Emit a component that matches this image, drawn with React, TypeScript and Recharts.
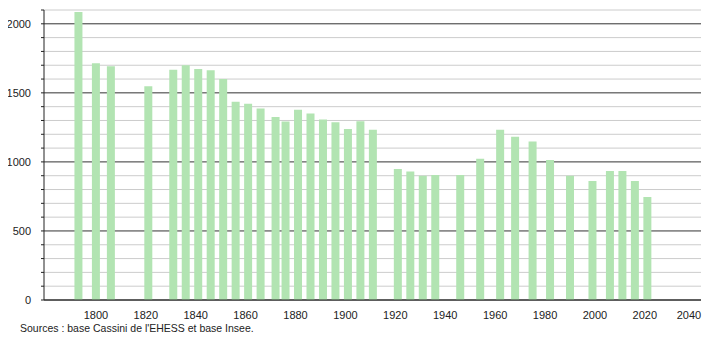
import { Bar, BarChart, CartesianGrid, XAxis, YAxis } from "recharts";

const years = [
  1793, 1800, 1806, 1821, 1831, 1836, 1841, 1846, 1851, 1856, 1861, 1866, 1872, 1876, 1881,
  1886, 1891, 1896, 1901, 1906, 1911, 1921, 1926, 1931, 1936, 1946, 1954, 1962, 1968, 1975,
  1982, 1990, 1999, 2006, 2011, 2016, 2021,
];
const population = [
  2085, 1715, 1693, 1548, 1667, 1700, 1672, 1664, 1601, 1435, 1422, 1386, 1326, 1292, 1377,
  1350, 1307, 1288, 1239, 1295, 1232, 949, 930, 899, 906, 906, 1022, 1232, 1183, 1147,
  1014, 899, 862, 935, 935, 862, 746,
];
const xTicks = [1800, 1820, 1840, 1860, 1880, 1900, 1920, 1940, 1960, 1980, 2000, 2020, 2040];
const majorTicks = [0, 500, 1000, 1500, 2000];
const minorTicks = [
  100, 200, 300, 400, 600, 700, 800, 900, 1100, 1200, 1300, 1400, 1600, 1700, 1800, 1900, 2100,
];
const allYTicks = [...majorTicks, ...minorTicks].sort((a, b) => a - b);

const data = years.map((year, i) => ({ year, pop: population[i] }));

const font = "'Liberation Sans', Arial, sans-serif";

// keeps the last year label inside the picture
function YearTick({ x, y, payload }: any) {
  return (
    <text
      x={Math.min(x, 689)}
      y={y + 11}
      textAnchor="middle"
      fontSize={11}
      fill="#222"
      fontFamily={font}
    >
      {payload.value}
    </text>
  );
}

export default function App() {
  // pull the chart back over the body margin so it can use the full width
  return (
    <div
      style={{
        position: "relative",
        margin: "-8px 0 0 -8px",
        width: 710,
        height: 336,
        fontFamily: font,
      }}
    >
      <BarChart
        width={710}
        height={320}
        data={data}
        margin={{ top: 10, right: 9, left: 8, bottom: 0 }}
        barSize={8}
      >
        <CartesianGrid
          vertical={false}
          horizontalValues={minorTicks}
          stroke="#cccccc"
          strokeDasharray=""
        />
        <CartesianGrid
          vertical={false}
          horizontalValues={majorTicks}
          stroke="#333333"
          strokeDasharray=""
        />
        <XAxis
          dataKey="year"
          type="number"
          domain={[1779.2, 2042.5]}
          ticks={xTicks}
          allowDataOverflow
          height={20}
          tickLine={false}
          axisLine={{ stroke: "#222" }}
          tick={<YearTick />}
        />
        <YAxis
          type="number"
          domain={[0, 2100]}
          ticks={allYTicks}
          width={36}
          interval={0}
          tickSize={3}
          tickMargin={10}
          tickLine={{ stroke: "#222" }}
          axisLine={{ stroke: "#222" }}
          tickFormatter={(v: number) => (v % 500 === 0 ? String(v) : "")}
          tick={{ fontSize: 11, fill: "#222", fontFamily: font }}
        />
        <Bar dataKey="pop" fill="#b2e4b2" isAnimationActive={false} />
      </BarChart>
      <div
        style={{
          position: "absolute",
          left: 20,
          top: 322,
          fontSize: 10.5,
          color: "#222",
          whiteSpace: "nowrap",
        }}
      >
        Sources : base Cassini de l'EHESS et base Insee.
      </div>
    </div>
  );
}
